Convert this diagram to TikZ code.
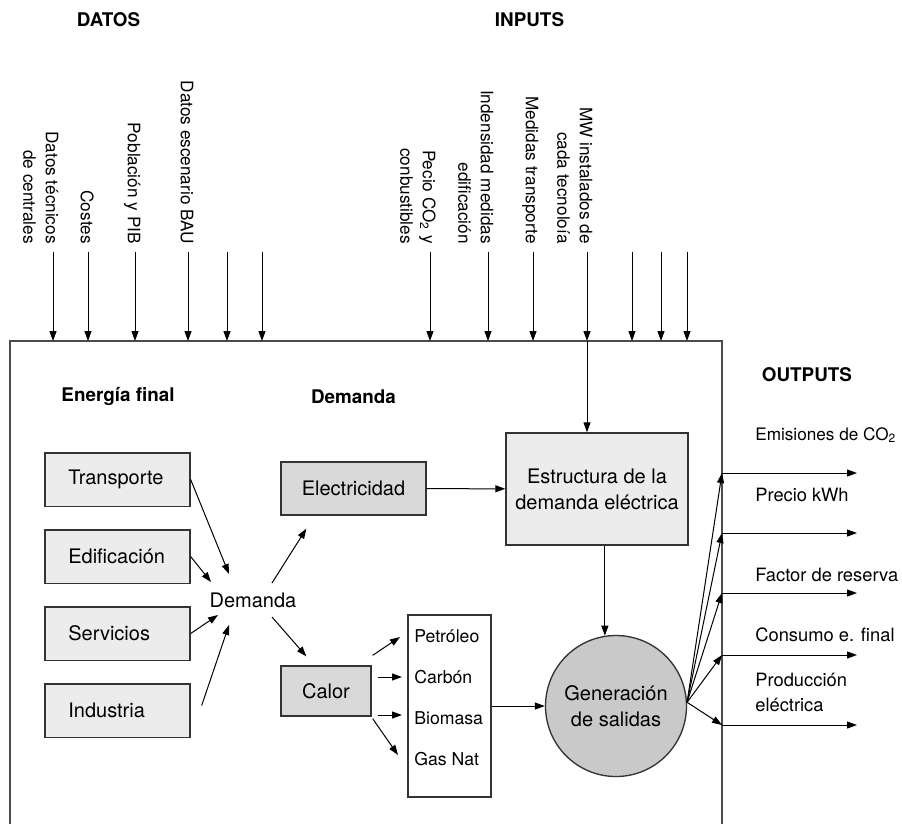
\documentclass[tikz,border=0pt]{standalone}
\usepackage{fontspec}
\setmainfont{TeX Gyre Heros}
\usetikzlibrary{arrows.meta,calc}
\definecolor{boxlight}{gray}{0.925}
\definecolor{boxmid}{gray}{0.85}
\definecolor{boxdark}{gray}{0.79}
\definecolor{framegray}{gray}{0.3}
\newcommand{\boxfont}{\fontsize{12}{15.6}\selectfont}
\newcommand{\labelfont}{\fontsize{10.3}{13.5}\selectfont}
\newcommand{\outfont}{\fontsize{11}{15}\selectfont}
\newcommand{\fuelfont}{\fontsize{10.6}{13}\selectfont}
\newcommand{\headfont}{\bfseries\fontsize{11.3}{13}\selectfont}
\newcommand{\cotwo}{CO\textsubscript{2}}
\tikzset{
  arr/.style={-{Triangle[length=6pt,width=4.2pt]}, line width=0.6pt},
  sector/.style={draw=black!80, line width=0.8pt, fill=boxlight, text width=59pt, align=left, inner xsep=14pt, minimum height=32pt, font=\boxfont},
  block/.style={draw=black!80, line width=0.8pt, font=\boxfont, align=center},
  inlabel/.style={rotate=-90, anchor=north east, align=right, inner sep=0pt, font=\labelfont},
  outlabel/.style={anchor=west, align=left, inner sep=0pt, font=\outfont},
  fuel/.style={anchor=west, inner sep=0pt, font=\fuelfont},
  heading/.style={font=\headfont},
}

\begin{document}
\begin{tikzpicture}[x=0.6pt, y=-0.6pt]
      \useasboundingbox (0,0) rectangle (902,824);
      % marco del modelo
      \coordinate (ftop) at (10,341);
      \draw[framegray, line width=1pt] (10,824) -- (ftop) -- (722,341) -- (722,824);
      \node[heading] (datos) at (108.5,20) {DATOS};
      \node[heading] (inputs) at (529.5,20) {INPUTS};
      \node[heading] (outputs) at (807,375) {OUTPUTS};
      \node[heading] (efinal) at (118,396) {Energía final};
      \node[heading] (hdem) at (353.5,397) {Demanda};
      % datos
      \coordinate (itec) at (53,252);
      \coordinate (icos) at (88,252);
      \coordinate (ipob) at (135,252);
      \coordinate (ibau) at (188,252);
      \coordinate (id5) at (227,252);
      \coordinate (id6) at (262,252);
      \node[inlabel] (ltec) at (62,244) {\strut{}Datos técnicos\\de centrales};
      \node[inlabel] (lcos) at (97,244) {\strut{}Costes};
      \node[inlabel] (lpob) at (144,244) {\strut{}Población y PIB};
      \node[inlabel] (lbau) at (197,244) {\strut{}Datos escenario BAU};
      \draw[arr] (itec) -- (itec |- ftop);
      \draw[arr] (icos) -- (icos |- ftop);
      \draw[arr] (ipob) -- (ipob |- ftop);
      \draw[arr] (ibau) -- (ibau |- ftop);
      \draw[arr] (id5) -- (id5 |- ftop);
      \draw[arr] (id6) -- (id6 |- ftop);
      % inputs
      \coordinate (ipec) at (430,252);
      \coordinate (iind) at (488,252);
      \coordinate (imed) at (533,252);
      \coordinate (imw) at (587,252);
      \coordinate (ii5) at (632,252);
      \coordinate (ii6) at (661,252);
      \coordinate (ii7) at (687,252);
      \node[inlabel] (lpec) at (439,244) {\strut{}Pecio \cotwo{} y\\conbustibles};
      \node[inlabel] (lind) at (497,244) {\strut{}Indensidad medidas\\edificación};
      \node[inlabel] (lmed) at (542,244) {\strut{}Medidas transporte};
      \node[inlabel] (lmw) at (596,244) {\strut{}MW instalados de\\cada tecnoloía};
      \draw[arr] (ipec) -- (ipec |- ftop);
      \draw[arr] (iind) -- (iind |- ftop);
      \draw[arr] (imed) -- (imed |- ftop);
      \draw[arr] (imw) -- (imw |- ftop);
      \draw[arr] (ii5) -- (ii5 |- ftop);
      \draw[arr] (ii6) -- (ii6 |- ftop);
      \draw[arr] (ii7) -- (ii7 |- ftop);
      % energia final y demanda
      \node[sector] (tra) at (117.5,479.5) {Transporte};
      \node[sector] (edi) at (117.5,556.5) {Edificación};
      \node[sector] (ser) at (117.5,633.5) {Servicios};
      \node[sector] (ind) at (117.5,710.5) {Industria};
      \node[font=\boxfont] (dem) at (253,600) {Demanda};
      \draw[arr] (tra.east) -- ($(dem)+(-24,-26)$);
      \draw[arr] (edi.east) -- ($(dem)+(-42,-18)$);
      \draw[arr] (ser.east) -- ($(dem)+(-35,15)$);
      \draw[arr] ($(ind.east)+(11,-5)$) -- ($(dem)+(-24,25)$);
      \node[block, fill=boxmid, minimum width=87pt, minimum height=31.8pt] (ele) at (353.5,488.5) {Electricidad};
      \node[block, fill=boxmid, minimum width=54pt, minimum height=30pt] (cal) at (326,691) {Calor};
      \draw[arr] ($(dem)+(19,-17)$) -- ($(ele.south west)+(26,13)$);
      \draw[arr] ($(dem)+(19,17)$) -- ($(cal.north west)+(26,-9)$);
      % combustibles
      \node[draw=black!80, line width=0.8pt, fill=white, minimum width=49.8pt, minimum height=109.2pt] (comb) at (449.5,706) {};
      \node[fuel] (pet) at (414,636) {Petróleo};
      \node[fuel] (car) at (414,677) {Carbón};
      \node[fuel] (bio) at (414,718) {Biomasa};
      \node[fuel] (gas) at (414,759) {Gas Nat};
      \draw[arr] ($(cal.north east)+(1,-10)$) -- ($(pet.west)+(-14,1)$);
      \draw[arr] ($(cal.east |- car)+(6,0)$) -- ($(car.west)+(-12,0)$);
      \draw[arr] ($(cal.east |- bio)+(6,-3)$) -- ($(bio.west)+(-12,-3)$);
      \draw[arr] ($(cal.south east)+(1,2)$) -- ($(gas.west)+(-16,-4)$);
      % demanda electrica y generacion
      \node[block, fill=boxlight, minimum width=109.2pt, minimum height=67.2pt] (est) at (597,489) {Estructura de la\\demanda eléctrica};
      \node[block, circle, fill=boxdark, minimum size=84.6pt, inner sep=0pt] (gen) at (616,706) {Generación\\de salidas};
      \draw[arr] (imw |- ftop) -- (imw |- est.north);
      \draw[arr] (ele) -- (est);
      \draw[arr] (gen.99 |- est.south) -- (gen.99);
      \draw[arr] (comb) -- (gen);
      % outputs
      \coordinate (o1) at (722,473);
      \coordinate (o2) at (722,533);
      \coordinate (o3) at (722,593);
      \coordinate (o4) at (722,655);
      \coordinate (o5) at (722,725);
      \coordinate (e1) at (857,473);
      \coordinate (e2) at (857,533);
      \coordinate (e3) at (857,593);
      \coordinate (e4) at (857,655);
      \coordinate (e5) at (857,725);
      \draw[arr] (gen.3) -- (o1);
      \draw[arr] (gen.3) -- (o2);
      \draw[arr] (gen.3) -- (o3);
      \draw[arr] (gen.3) -- (o4);
      \draw[arr] (gen.3) -- (o5);
      \draw[arr] (o1) -- (e1);
      \draw[arr] (o2) -- (e2);
      \draw[arr] (o3) -- (e3);
      \draw[arr] (o4) -- (e4);
      \draw[arr] (o5) -- (e5);
      \node[outlabel, font=\fontsize{10.3}{15}\selectfont] (lemi) at (755,435) {Emisiones de \cotwo};
      \node[outlabel] (lpre) at (755,495) {Precio kWh};
      \node[outlabel] (lfac) at (755,575) {Factor de reserva};
      \node[outlabel] (lcon) at (755,635) {Consumo e. final};
      \node[outlabel] (lpro) at (755,692) {Producción\\eléctrica};
    \end{tikzpicture}
\end{document}
